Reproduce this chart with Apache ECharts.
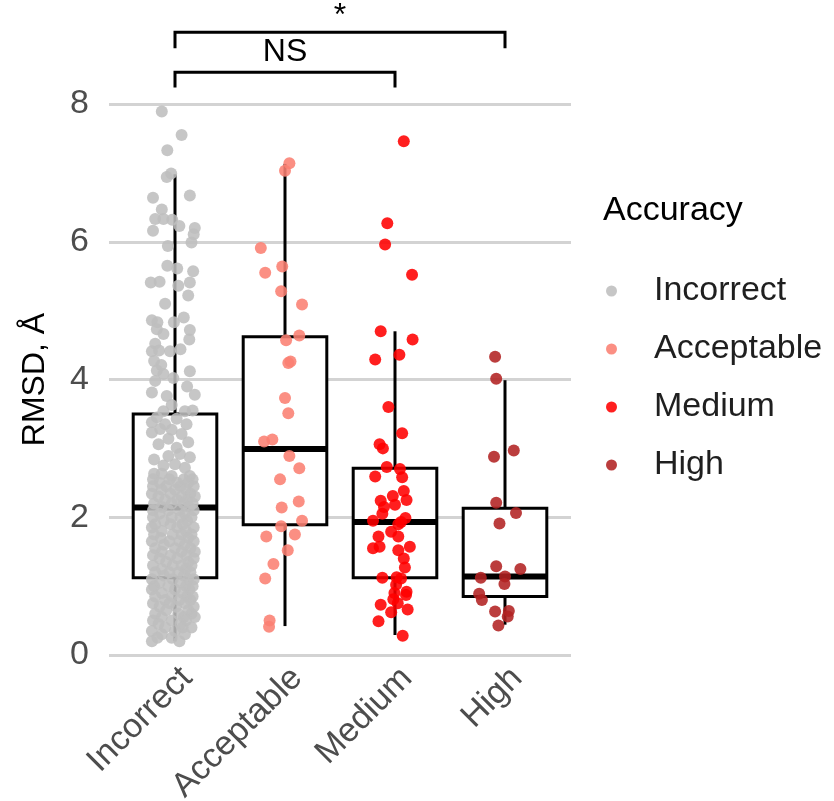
<!DOCTYPE html>
<html>
<head>
<meta charset="utf-8">
<script src="https://cdn.jsdelivr.net/npm/echarts@6/dist/echarts.min.js"></script>
<style>html,body{margin:0;padding:0;background:#fff}#chart{width:834px;height:801px}</style>
</head>
<body>
<div id="chart"></div>
<script>
const categories = ['Incorrect', 'Acceptable', 'Medium', 'High']
const colorSet = ['#bebebe', '#fa8072', '#ff0000', '#b22222']
const yTicks = [0, 2, 4, 6, 8]

// box stats per category: [min, q1, median, q3, max]
const boxStats = [
  [0.20, 1.12, 2.14, 3.50, 6.98],
  [0.42, 1.89, 2.99, 4.62, 7.13],
  [0.29, 1.12, 1.93, 2.71, 4.70],
  [0.44, 0.85, 1.14, 2.13, 3.99],
]

// jittered points: [offset from category centre, RMSD]
const incorrectPts = [
  [-0.12,7.89],[0.06,7.55],[-0.07,7.33],[-0.035,6.99],[-0.075,6.94],[-0.2,6.64],[0.135,6.67],[-0.12,6.47],
  [-0.18,6.33],[-0.105,6.33],[-0.025,6.32],[0.04,6.23],[-0.2,6.16],[0.18,6.2],[0.17,6.11],[0.15,5.99],
  [-0.065,5.94],[-0.07,5.65],[0.02,5.61],[0.165,5.57],[-0.22,5.41],[-0.14,5.42],[0.03,5.36],[0.135,5.41],
  [0.12,5.22],[-0.09,5.1],[-0.21,4.86],[-0.16,4.83],[-0.01,4.83],[0.08,4.9],[-0.165,4.73],[0.135,4.72],
  [-0.105,4.66],[0.13,4.58],[-0.18,4.52],[-0.21,4.41],[-0.145,4.42],[-0.045,4.41],[0.05,4.44],[-0.19,4.27],
  [-0.125,4.21],[-0.165,4.13],[0.135,4.12],[-0.105,4.08],[-0.015,4.02],[-0.18,3.98],[0.11,3.9],[-0.21,3.81],
  [0.18,3.78],[-0.075,3.76],[-0.03,3.63],[-0.105,3.54],[0.16,3.55],[0.09,3.54],[-0.165,3.45],[0.015,3.43],
  [-0.21,3.38],[-0.09,3.35],[0.105,3.35],[-0.135,3.28],[-0.03,3.27],[-0.21,3.23],[0.06,3.21],[-0.06,3.14],
  [0.12,3.09],[-0.15,3.06],[0.015,3.01],[-0.19,2.84],[-0.06,2.89],[0.045,2.92],[0.135,2.87],[-0.105,2.75],
  [0,2.77],[0.09,2.72],[-0.19,2.63],[-0.12,2.63],[-0.03,2.6],[0.135,2.6],
  [-0.2,2.55],[-0.05,2.55],[0.08,2.55],[0.16,2.55],[-0.14,2.5],[0.02,2.5],[0.12,2.5],
  [-0.2,2.45],[-0.08,2.45],[0.05,2.45],[0.17,2.45],[-0.12,2.4],[0,2.4],[0.1,2.4],
  [-0.21,2.34],[-0.04,2.34],[0.14,2.34],[-0.15,2.3],[0.06,2.3],[0.18,2.3],[-0.09,2.25],[0.02,2.25],[0.11,2.25],
  [-0.19,2.2],[-0.03,2.2],[0.08,2.2],[0.16,2.2],[-0.12,2.15],[0.13,2.15],
  [-0.2,2.1],[-0.06,2.1],[0.04,2.1],[0.17,2.1],[-0.14,2.05],[0.09,2.05],
  [-0.2,2.0],[-0.03,2.0],[0.05,2.0],[0.15,2.0],[-0.1,1.95],[0.11,1.95],
  [-0.18,1.9],[-0.04,1.9],[0.07,1.9],[-0.21,1.85],[0.02,1.85],[0.17,1.85],[-0.12,1.8],[0.1,1.8],
  [-0.19,1.75],[-0.02,1.75],[0.06,1.75],[0.15,1.75],[-0.13,1.7],[0.12,1.7],
  [-0.21,1.65],[-0.05,1.65],[0.04,1.65],[0.17,1.65],[-0.1,1.6],[0.09,1.6],
  [-0.18,1.55],[0,1.55],[0.14,1.55],[-0.12,1.5],[0.06,1.5],[0.18,1.5],
  [-0.2,1.45],[-0.04,1.45],[0.1,1.45],[-0.14,1.4],[0.02,1.4],[0.17,1.4],[-0.08,1.35],[0.12,1.35],
  [-0.2,1.3],[-0.02,1.3],[0.06,1.3],[0.15,1.3],[-0.12,1.25],[0.1,1.25],
  [-0.18,1.2],[-0.05,1.2],[0.03,1.2],[0.14,1.2],[-0.1,1.15],[0.08,1.15],
  [-0.21,1.1],[-0.02,1.1],[0.12,1.1],[0.17,1.1],[-0.14,1.05],[0.05,1.05],
  [-0.19,1.0],[-0.06,1.0],[0.1,1.0],[0.16,1.0],[-0.21,0.95],[0,0.95],[0.13,0.95],
  [-0.12,0.9],[0.07,0.9],[-0.18,0.85],[-0.03,0.85],[0.11,0.85],[0.16,0.85],
  [-0.09,0.8],[0.04,0.8],[0.14,0.8],[-0.2,0.75],[-0.05,0.75],[0.09,0.75],
  [-0.14,0.7],[0.01,0.7],[0.17,0.7],[-0.08,0.65],[0.12,0.65],
  [-0.18,0.6],[0.03,0.6],[0.15,0.6],[-0.12,0.55],[0.08,0.55],[0.18,0.55],
  [-0.2,0.5],[-0.03,0.5],[0.1,0.5],[-0.15,0.45],[0.05,0.45],
  [-0.09,0.4],[0.07,0.4],[0.15,0.4],[-0.21,0.35],[0,0.35],[-0.12,0.3],[0.09,0.3],
  [-0.03,0.25],[-0.16,0.25],[-0.21,0.2],[0.04,0.2]
]
const acceptablePts = [
  [0.04,7.14],[0,7.03],[-0.22,5.91],[-0.025,5.64],[-0.18,5.55],[-0.035,5.28],[0.155,5.09],[0.13,4.64],
  [0.01,4.57],[0.05,4.26],[0.03,4.24],[0,3.73],[0.03,3.51],[-0.19,3.1],[-0.115,3.13],[0.04,2.89],
  [0.13,2.71],[-0.045,2.55],[0.125,2.23],[-0.03,2.14],[0.155,1.95],[-0.035,1.87],[0.09,1.75],[-0.17,1.72],
  [0.025,1.52],[-0.105,1.32],[-0.18,1.11],[-0.14,0.5],[-0.145,0.41]
]
const mediumPts = [
  [0.08,7.46],[-0.07,6.27],[-0.09,5.96],[0.155,5.52],[-0.13,4.7],[0.16,4.58],[0.04,4.36],[-0.18,4.29],
  [-0.06,3.6],[0.065,3.22],[-0.14,3.06],[-0.11,3.0],[-0.075,2.73],[0.045,2.7],[-0.18,2.59],[0.065,2.58],
  [0.08,2.38],[-0.02,2.31],[-0.13,2.24],[0.105,2.25],[0,2.18],[-0.1,2.15],[-0.115,2.05],[0.095,1.99],
  [-0.2,1.95],[0.055,1.93],[0.03,1.9],[-0.035,1.79],[-0.15,1.72],[0.03,1.72],[-0.2,1.55],[-0.14,1.57],
  [0.135,1.57],[0.03,1.52],[0.08,1.4],[0.09,1.27],[-0.115,1.12],[0.015,1.13],[0.055,1.11],[0.01,1.02],
  [-0.005,0.9],[0.105,0.92],[0.1,0.87],[-0.015,0.81],[0.025,0.75],[-0.13,0.73],[0.115,0.66],[-0.035,0.62],
  [-0.15,0.49],[0.07,0.28]
]
const highPts = [
  [-0.09,4.33],[-0.08,4.01],[-0.1,2.88],[0.08,2.97],[-0.08,2.21],[0.1,2.06],[-0.05,1.91],[-0.08,1.29],
  [0.14,1.25],[-0.22,1.12],[0,1.14],[-0.005,1.03],[-0.235,0.89],[-0.21,0.8],[-0.09,0.63],[0.035,0.64],
  [0.025,0.56],[-0.06,0.43]
]
const pointSets = [incorrectPts, acceptablePts, mediumPts, highPts]

// significance brackets: [from, to, line y, drop y, label y]
const brackets = [[0, 3, 9.04, 8.81, 9.27], [0, 2, 8.46, 8.24, 8.75]]
const bracketLabels = ['*', 'NS']

const font = 'Liberation Sans, Arial, sans-serif'
const chart = echarts.init(document.getElementById('chart'))

function renderBox(params, api) {
  const x = api.value(0)
  const lo = api.coord([x, api.value(1)])
  const q1 = api.coord([x, api.value(2)])
  const md = api.coord([x, api.value(3)])
  const q3 = api.coord([x, api.value(4)])
  const hi = api.coord([x, api.value(5)])
  const w = api.size([0.76, 0])[0]
  const line = {stroke: '#000', lineWidth: 3}
  return {type: 'group', children: [
    {type: 'line', shape: {x1: lo[0], y1: lo[1], x2: q1[0], y2: q1[1]}, style: line},
    {type: 'line', shape: {x1: q3[0], y1: q3[1], x2: hi[0], y2: hi[1]}, style: line},
    {type: 'rect', shape: {x: q3[0] - w / 2, y: q3[1], width: w, height: q1[1] - q3[1]}, style: {fill: '#fff', stroke: '#000', lineWidth: 3}},
    {type: 'line', shape: {x1: md[0] - w / 2, y1: md[1], x2: md[0] + w / 2, y2: md[1]}, style: {stroke: '#000', lineWidth: 6}},
  ]}
}

function renderBracket(params, api) {
  const a = api.coord([api.value(0), api.value(2)])
  const b = api.coord([api.value(1), api.value(2)])
  const drop = api.coord([0, api.value(3)])[1]
  const labY = api.coord([0, api.value(4)])[1]
  return {type: 'group', children: [
    {type: 'polyline', shape: {points: [[a[0], drop], [a[0], a[1]], [b[0], b[1]], [b[0], drop]]},
      style: {stroke: '#000', lineWidth: 3, fill: null}},
    {type: 'text', x: (a[0] + b[0]) / 2, y: labY,
      style: {text: bracketLabels[params.dataIndex], fontSize: 32, fontFamily: font, fill: '#000', align: 'center', verticalAlign: 'middle'}},
  ]}
}

const series = [
  {
    type: 'custom', name: 'box', renderItem: renderBox, z: 1,
    encode: {x: 0, y: [1, 2, 3, 4, 5]},
    data: boxStats.map((s, i) => [i].concat(s)),
  },
  {
    type: 'custom', name: 'brackets', renderItem: renderBracket, clip: false, z: 1,
    encode: {x: [0, 1], y: [2, 3, 4]},
    data: brackets,
  },
]
categories.forEach((name, i) => {
  series.push({
    type: 'scatter', name: name, symbol: 'circle', symbolSize: 12, z: 3,
    itemStyle: {color: colorSet[i], opacity: 0.88},
    data: pointSets[i].map(p => [i + p[0], p[1]]),
  })
})

chart.setOption({
  animation: false,
  backgroundColor: '#fff',
  title: {
    text: 'Accuracy', left: 603, top: 194, padding: 0,
    textStyle: {fontSize: 34, fontWeight: 'normal', color: '#000', fontFamily: font},
  },
  legend: {
    data: categories, orient: 'vertical', left: 606, top: 274, padding: 0,
    icon: 'circle', itemWidth: 11, itemHeight: 11, itemGap: 24,
    textStyle: {fontSize: 34, color: '#1f1f1f', fontFamily: font, lineHeight: 34, padding: [0, 0, 0, 32]},
  },
  grid: {left: 109, right: 263, top: 104, bottom: 146, containLabel: false, outerBoundsMode: 'none'},
  xAxis: {
    type: 'value', min: -0.6, max: 3.6,
    axisLine: {show: false}, axisTick: {show: false}, splitLine: {show: false},
    axisLabel: {
      customValues: [0, 1, 2, 3], formatter: v => categories[Math.round(v)],
      rotate: 45, align: 'right', verticalAlign: 'top', margin: 6,
      fontSize: 34, color: '#4d4d4d', fontFamily: font,
    },
  },
  yAxis: {
    type: 'value', min: yTicks[0], max: yTicks[yTicks.length - 1], interval: 2,
    name: 'RMSD, Å', nameLocation: 'middle', nameGap: 58,
    nameTextStyle: {fontSize: 32, color: '#000', fontFamily: font},
    axisLine: {show: false}, axisTick: {show: false},
    splitLine: {lineStyle: {color: '#d3d3d3', width: 3}},
    axisLabel: {fontSize: 34, color: '#4d4d4d', fontFamily: font, margin: 20},
  },
  series: series,
})
</script>
</body>
</html>
